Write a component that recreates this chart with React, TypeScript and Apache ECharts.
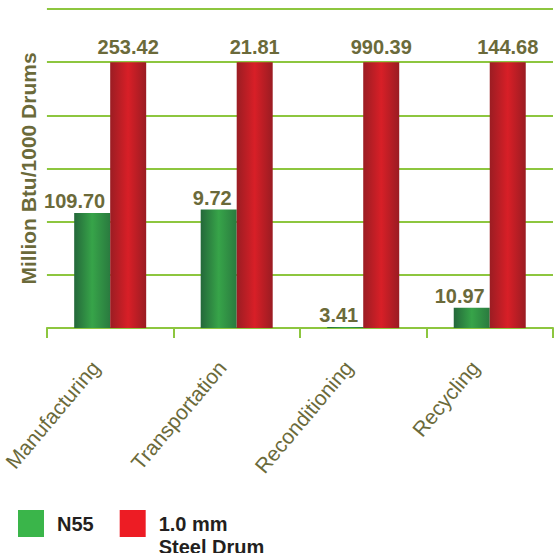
import React, { useEffect, useRef } from "react";
import * as echarts from "echarts";

const categories = ["Manufacturing", "Transportation", "Reconditioning", "Recycling"];
const n55Values = [109.7, 9.72, 3.41, 10.97];
const steelValues = [253.42, 21.81, 990.39, 144.68];
const seriesNames = ["N55", "1.0 mm\nSteel Drum"];
const yTicks = [0, 20, 40, 60, 80, 100, 120];

const OLIVE = "#6b6a3a";
const LIME = "#8dc63f";
const FONT = "Liberation Sans, Arial, sans-serif";

export default function App() {
  const ref = useRef<HTMLDivElement>(null);
  useEffect(() => {
    if (!ref.current) return;
    const chart = echarts.init(ref.current, null, { renderer: "svg" });
    // Each category is shown relative to the steel drum value (= 100)
    const n55Rel = n55Values.map((v, i) => (v / steelValues[i]) * 100);
    const steelRel = steelValues.map(() => 100);
    const fmt = (arr: number[]) => (p: any) => arr[p.dataIndex].toFixed(2);
    const greenGrad = new echarts.graphic.LinearGradient(0, 0, 1, 0, [
      { offset: 0, color: "#24683a" },
      { offset: 0.5, color: "#37a449" },
      { offset: 1, color: "#2a7a3f" },
    ]);
    const redGrad = new echarts.graphic.LinearGradient(0, 0, 1, 0, [
      { offset: 0, color: "#9b1d23" },
      { offset: 0.5, color: "#d81f27" },
      { offset: 1, color: "#9a1c22" },
    ]);
    chart.setOption({
      animation: false,
      textStyle: { fontFamily: FONT },
      grid: { left: 46, right: 3, top: 9, bottom: 225, containLabel: false },
      legend: {
        left: 18,
        top: 489,
        padding: 0,
        itemWidth: 26,
        itemHeight: 27,
        itemGap: 26,
        icon: "rect",
        selectedMode: false,
        data: [
          { name: seriesNames[0], itemStyle: { color: "#3ab54a" } },
          { name: seriesNames[1], itemStyle: { color: "#ed1c24" } },
        ],
        formatter: (name: string) => (name === seriesNames[0] ? name : "\n" + name),
        textStyle: {
          color: "#231f20",
          fontWeight: "bold",
          fontSize: 20,
          lineHeight: 23,
          padding: [0, 0, 0, 8],
          fontFamily: FONT,
        },
      },
      xAxis: {
        type: "category",
        data: categories,
        axisLine: { show: true, lineStyle: { color: LIME, width: 2 } },
        axisTick: { show: true, length: 10, lineStyle: { color: LIME, width: 2 } },
        axisLabel: {
          rotate: 50,
          margin: 18,
          padding: [0, 23, 0, 0],
          color: OLIVE,
          fontSize: 21,
          fontFamily: FONT,
        },
      },
      yAxis: {
        type: "value",
        min: yTicks[0],
        max: yTicks[yTicks.length - 1],
        interval: 20,
        name: "Million Btu/1000 Drums",
        nameLocation: "middle",
        nameRotate: 90,
        nameGap: 8,
        nameTextStyle: {
          color: OLIVE,
          fontWeight: "bold",
          fontSize: 21,
          fontFamily: FONT,
        },
        axisLine: { show: false },
        axisTick: { show: false },
        axisLabel: { show: false },
        splitLine: { show: true, lineStyle: { color: LIME, width: 2 } },
      },
      series: [
        {
          name: seriesNames[0],
          type: "bar",
          data: n55Rel,
          barWidth: 36,
          barGap: "0%",
          itemStyle: { color: greenGrad },
          label: {
            show: true,
            position: [31, -2],
            align: "right",
            verticalAlign: "bottom",
            formatter: fmt(n55Values),
            color: OLIVE,
            fontWeight: "bold",
            fontSize: 20,
            fontFamily: FONT,
          },
        },
        {
          name: seriesNames[1],
          type: "bar",
          data: steelRel,
          barWidth: 36,
          barGap: "0%",
          itemStyle: { color: redGrad },
          label: {
            show: true,
            position: "top",
            distance: 5,
            formatter: fmt(steelValues),
            color: OLIVE,
            fontWeight: "bold",
            fontSize: 20,
            fontFamily: FONT,
          },
        },
      ],
    });
    return () => chart.dispose();
  }, []);
  return (
    <div
      ref={ref}
      style={{ position: "fixed", left: 0, top: 0, width: 556, height: 553, background: "#fff" }}
    />
  );
}
